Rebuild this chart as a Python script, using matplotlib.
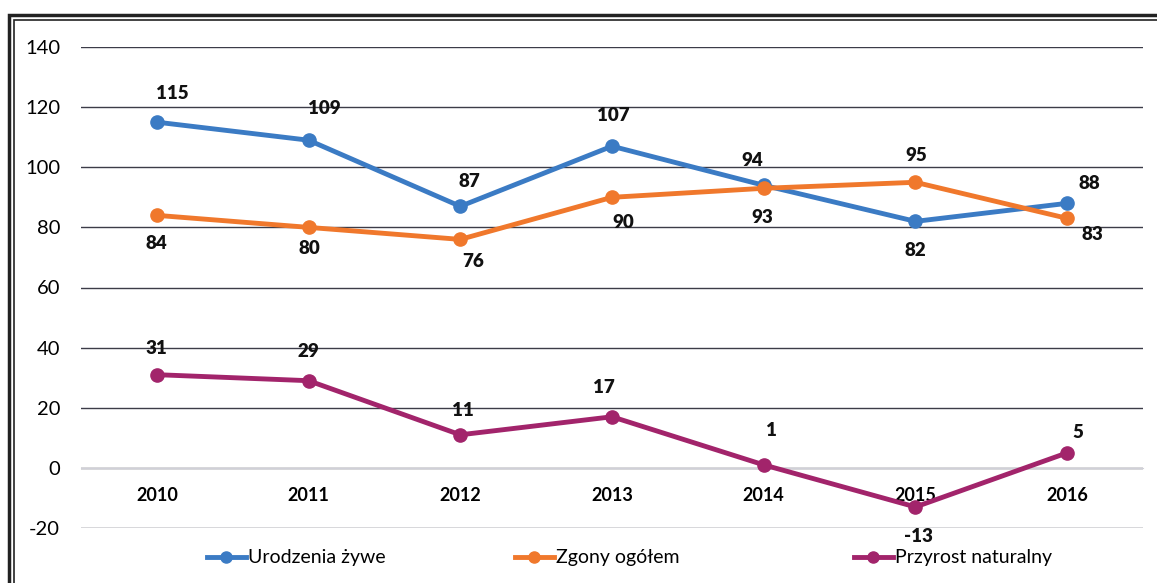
import numpy as np
import matplotlib
matplotlib.use("Agg")
import matplotlib.pyplot as plt
from matplotlib.patches import Rectangle
from matplotlib.lines import Line2D

plt.rcParams['font.family'] = ['Lato', 'DejaVu Sans']
plt.rcParams['axes.unicode_minus'] = False

years = ['2010', '2011', '2012', '2013', '2014', '2015', '2016']
urodzenia = [115, 109, 87, 107, 94, 82, 88]
zgony = [84, 80, 76, 90, 93, 95, 83]
przyrost = [31, 29, 11, 17, 1, -13, 5]
series_names = ['Urodzenia żywe', 'Zgony ogółem', 'Przyrost naturalny']
colors = ['#3B7BC4', '#F0782C', '#A2246B']

# label offsets in pixels (dx, dy)
off_u = [(15, 29), (16, 32), (9, 25), (1, 31), (-11, 25), (0, -29), (22, 20)]
off_z = [(0, -28), (1, -21), (13, -22), (11, -25), (-1, -29), (1, 27), (25, -16)]
off_p = [(0, 26), (0, 29), (3, 24), (-8, 29), (8, 34), (3, -30), (11, 20)]

W, H = 1157, 583
fig = plt.figure(figsize=(W / 100, H / 100), dpi=100)
ax = fig.add_axes([81 / W, 1 - 528 / H, (1143 - 81) / W, (528 - 47) / H])

x = np.arange(len(years))
for vals, col, offs in [(urodzenia, colors[0], off_u), (zgony, colors[1], off_z),
                        (przyrost, colors[2], off_p)]:
    ax.plot(x, vals, '-o', color=col, lw=3.5, ms=9.5, zorder=3)
    for xi, v, (dx, dy) in zip(x, vals, offs):
        ax.annotate(str(v), (xi, v), xytext=(dx, dy), textcoords='offset pixels',
                    ha='center', va='center', fontsize=13.5, fontweight='heavy',
                    color='#111111', zorder=4)

ax.set_xlim(-0.5, len(years) - 0.5)
ax.set_ylim(-20, 140)
ax.set_yticks(np.arange(-20, 141, 20))
ax.grid(axis='y', color='#3c3c48', lw=1)
ax.set_axisbelow(True)
for s in ['top', 'right', 'left']:
    ax.spines[s].set_visible(False)
ax.spines['bottom'].set_position(('data', 0))
ax.spines['bottom'].set_color('#d0d0d8')
ax.set_xticks(x)
ax.set_xticklabels(years, fontsize=13, fontweight='bold')
ax.tick_params(axis='x', length=0, pad=14)
ax.tick_params(axis='y', length=0, pad=15, labelsize=14.5)

# legend: one entry per series, placed like the original
leg_x = [207, 515, 854]
for name, col, lx in zip(series_names, colors, leg_x):
    h = Line2D([], [], color=col, lw=3.5, marker='o', ms=8)
    fig.legend([h], [name], loc='center left', bbox_to_anchor=(lx / W, 1 - 558 / H),
               frameon=False, fontsize=14, handlelength=2.0, handletextpad=0.1,
               borderpad=0, borderaxespad=0)

# double frame around chart
fig.patches.append(Rectangle((9 / W, -0.1), 1.2, 1 - 15 / H + 0.1, transform=fig.transFigure,
                             fill=False, ec='#222222', lw=2.5))
fig.patches.append(Rectangle((14 / W, -0.1), 1.2, 1 - 20 / H + 0.1, transform=fig.transFigure,
                             fill=False, ec='#222222', lw=1.2))

fig.savefig('out.png', dpi=100)
